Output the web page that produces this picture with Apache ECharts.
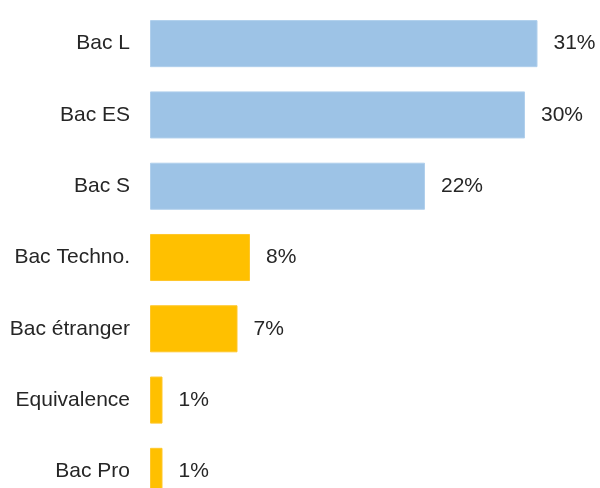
<!DOCTYPE html>
<html>
<head>
<meta charset="utf-8">
<script src="https://cdn.jsdelivr.net/npm/echarts@6/dist/echarts.min.js"></script>
<style>
  html, body { margin: 0; padding: 0; background: #fff; overflow: hidden; }
  /* taller than the window: the last bar is cut by the bottom edge */
  #chart { width: 600px; height: 520px; }
</style>
</head>
<body>
<div id="chart"></div>
<script>
// top to bottom as shown
const categories = ['Bac L', 'Bac ES', 'Bac S', 'Bac Techno.', 'Bac étranger', 'Equivalence', 'Bac Pro']
const shares = [31, 30, 22, 8, 7, 1, 1]
const groups = ['general', 'general', 'general', 'other', 'other', 'other', 'other']

const groupColors = { general: '#9DC3E6', other: '#FFC000' }

const chart = echarts.init(document.getElementById('chart'))

const option = {
  animation: false,
  grid: {
    left: 150,
    right: 0,
    top: 8,
    bottom: 13,
    containLabel: false
  },
  xAxis: {
    type: 'value',
    min: 0,
    max: 36,
    show: false
  },
  yAxis: {
    type: 'category',
    data: categories,
    inverse: true,
    axisLine: { show: false },
    axisTick: { show: false },
    axisLabel: {
      margin: 20,
      fontFamily: 'Liberation Sans, Arial, sans-serif',
      fontSize: 21,
      color: '#262626'
    }
  },
  series: [
    {
      type: 'bar',
      barCategoryGap: '34%',
      data: shares.map((v, i) => ({
        value: v,
        itemStyle: {
          color: groupColors[groups[i]],
          borderColor: groups[i] === 'general' ? '#B0CFEC' : '#FFC72A',
          borderWidth: 1
        }
      })),
      label: {
        show: true,
        position: 'right',
        distance: 16,
        fontFamily: 'Liberation Sans, Arial, sans-serif',
        fontSize: 21,
        color: '#262626',
        formatter: function (params) {
          return Math.round(params.value) + '%'
        }
      }
    }
  ]
}

chart.setOption(option)
</script>
</body>
</html>
